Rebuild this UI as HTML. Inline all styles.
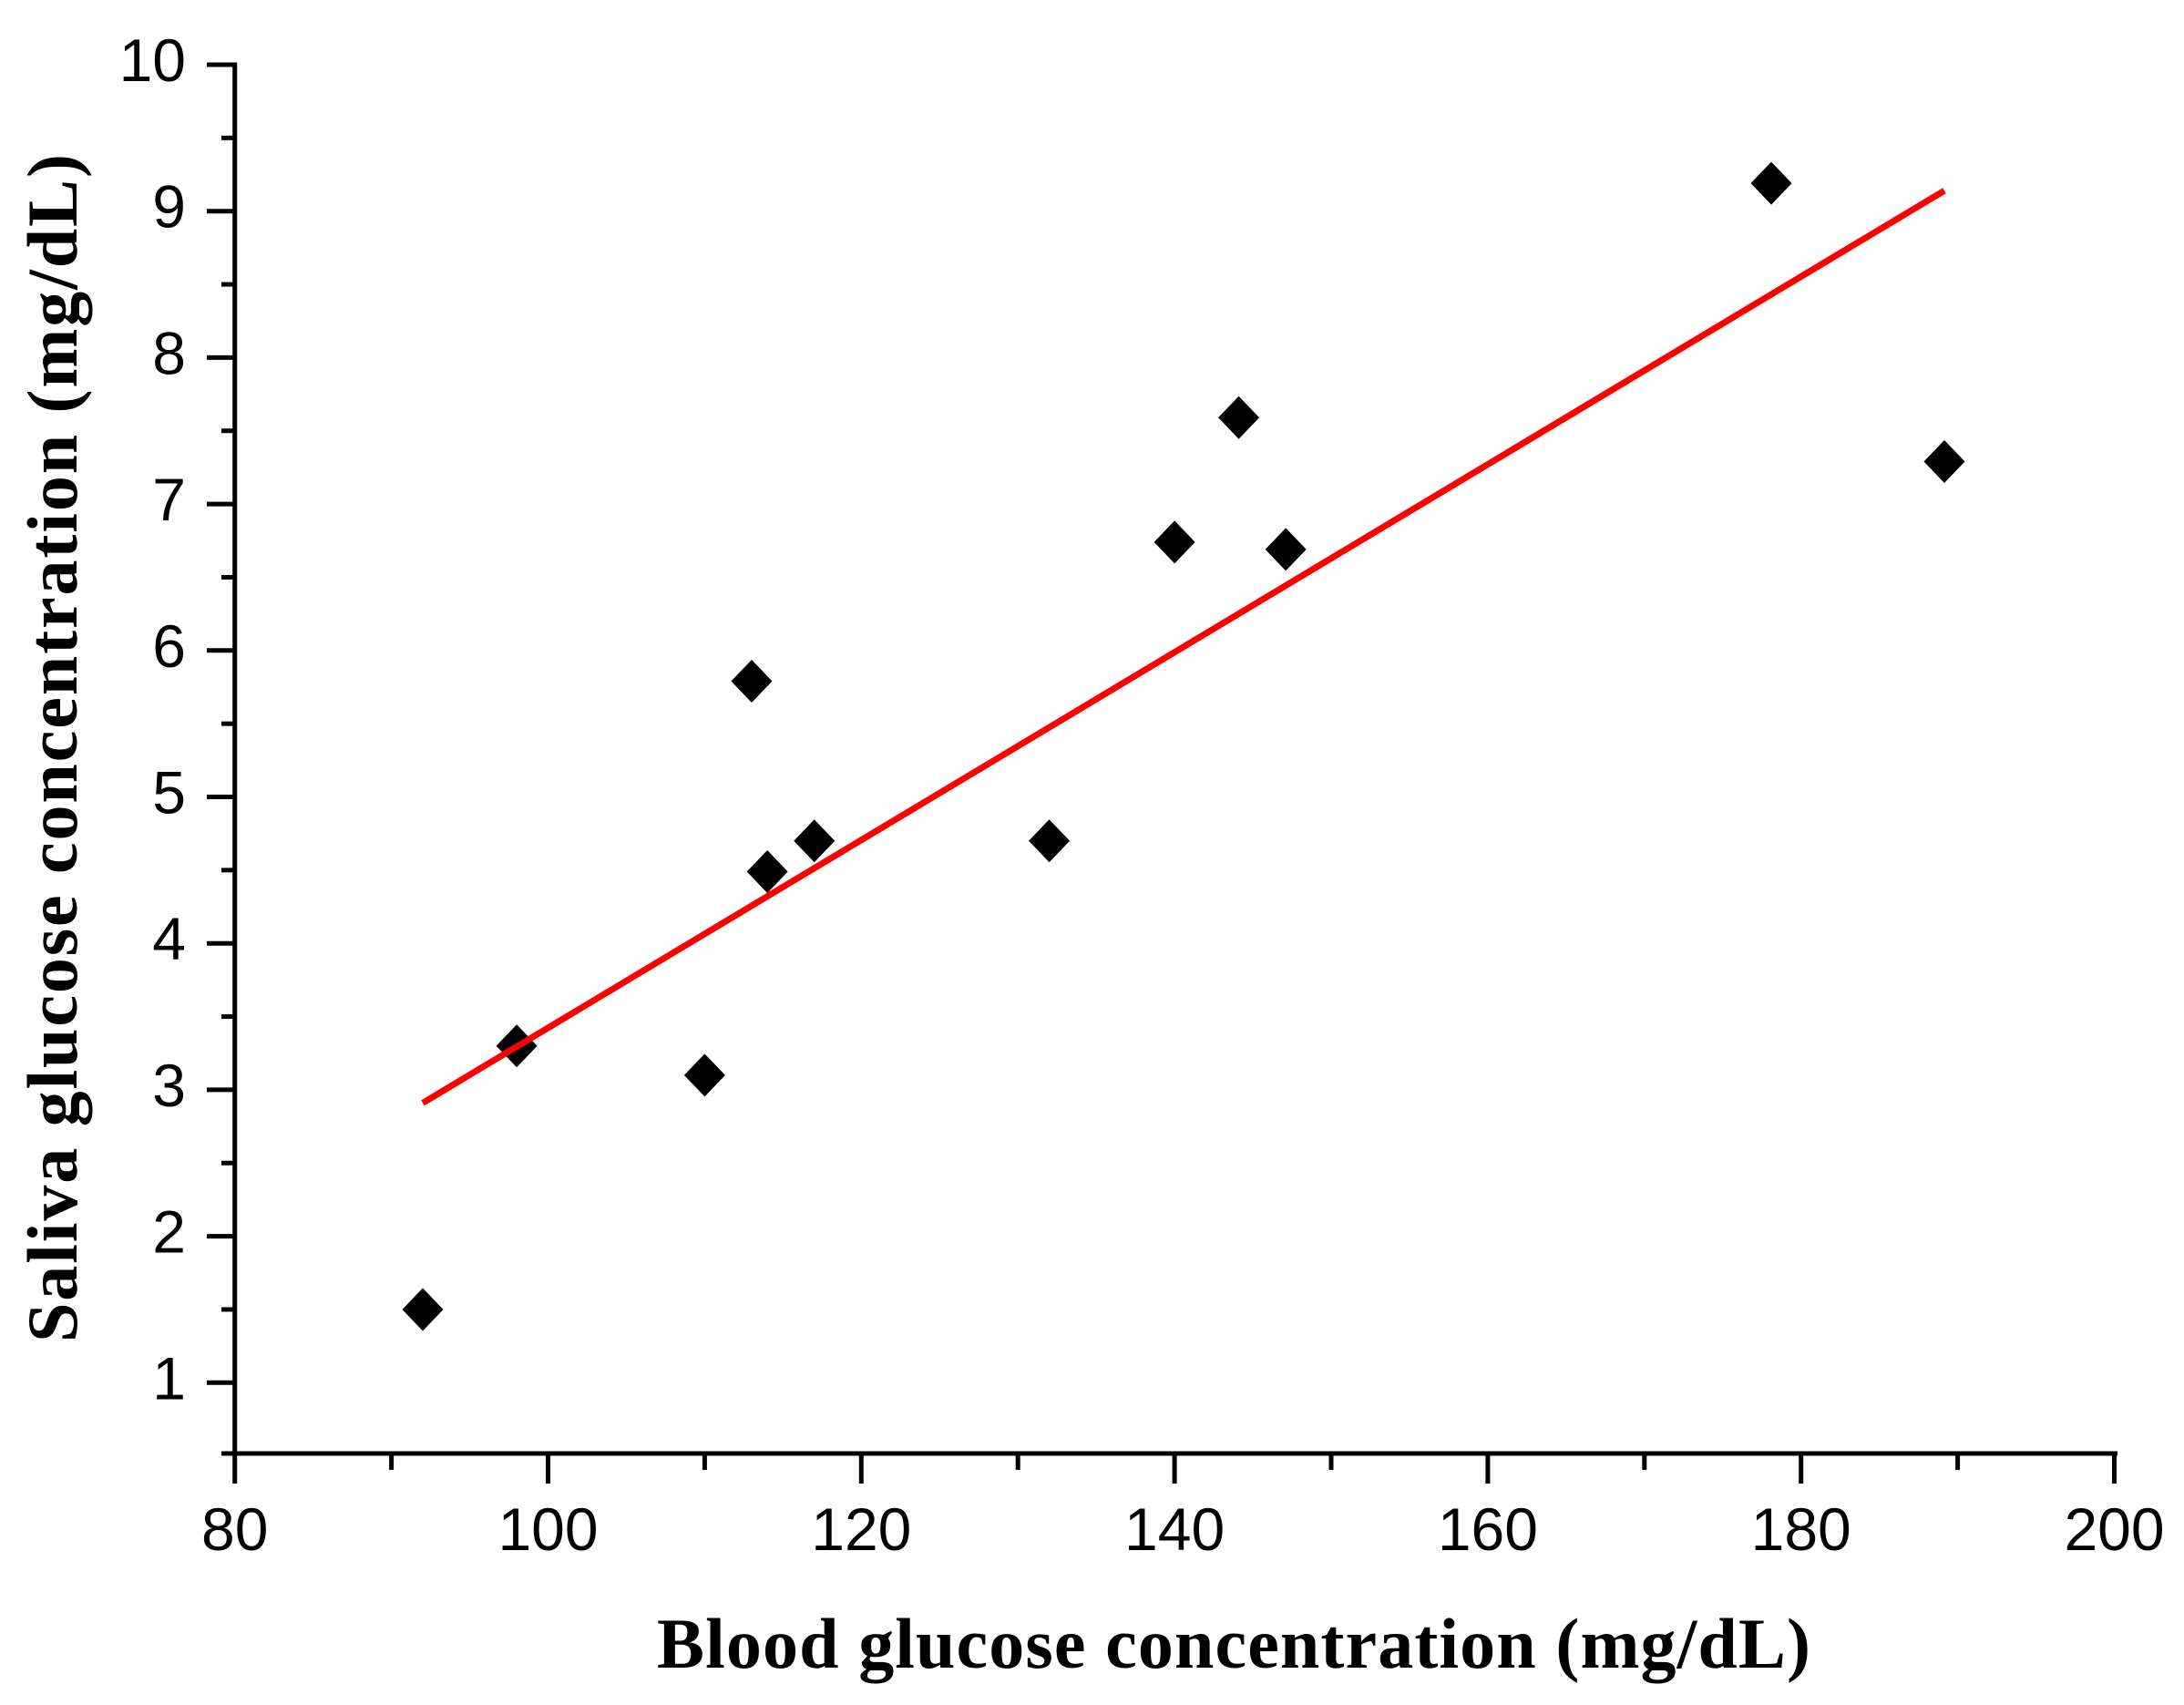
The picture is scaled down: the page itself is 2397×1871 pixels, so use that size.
<!DOCTYPE html>
<html lang="en">
<head>
<meta charset="utf-8">
<title>Saliva vs blood glucose concentration</title>
<style>
html,body{margin:0;padding:0;background:#fff;width:2397px;height:1871px;overflow:hidden}
svg{display:block}
.tick-label{font-family:"Liberation Sans",Arial,sans-serif;font-size:66px;fill:#000}
.axis-title{font-family:"Liberation Serif","Times New Roman",serif;font-weight:bold;font-size:78px;fill:#000}
</style>
</head>
<body>
<svg id="chart" xmlns="http://www.w3.org/2000/svg" width="2397" height="1871" viewBox="0 0 2397 1871">
  <rect x="0" y="0" width="2397" height="1871" fill="#fff"/>
  <g id="x-ticks"></g>
  <g id="y-ticks"></g>
  <line x1="257.7" y1="68.5" x2="257.7" y2="1597" stroke="#000" stroke-width="5"/>
  <line x1="243" y1="1595" x2="2324" y2="1595" stroke="#000" stroke-width="5"/>
  <g id="points"></g>
  <line id="fit" stroke="#ff0000" stroke-width="7"/>
  <text class="axis-title" x="721" y="1830" textLength="1266" lengthAdjust="spacing">Blood glucose concentration (mg/dL)</text>
  <text class="axis-title" transform="translate(84,1473) rotate(-90)" x="0" y="0" textLength="1304" lengthAdjust="spacing">Saliva glucose concentration (mg/dL)</text>
</svg>
<script>
const xMajorTicks = [80, 100, 120, 140, 160, 180, 200];
const xMinorTicks = [90, 110, 130, 150, 170, 190];
const yMajorTicks = [1, 2, 3, 4, 5, 6, 7, 8, 9, 10];
const yMinorTicks = [1.5, 2.5, 3.5, 4.5, 5.5, 6.5, 7.5, 8.5, 9.5];
const bloodGlucose = [92, 98, 110, 113, 114, 117, 132, 140, 144.1, 147.1, 178.1, 189.15];
const salivaGlucose = [1.5, 3.3, 3.1, 5.79, 4.49, 4.7, 4.7, 6.74, 7.59, 6.69, 9.19, 7.29];
const fitX = [92, 189.15];
const fitY = [2.91, 9.14];

const NS = 'http://www.w3.org/2000/svg';
const xScale = v => 257.7 + (v - 80) * 17.19;
const yScale = v => 71 + (10 - v) * 160.7;

function make(tag, parent) {
  const el = document.createElementNS(NS, tag);
  parent.appendChild(el);
  return el;
}
function tickLine(parent, x1, y1, x2, y2) {
  const el = make('line', parent);
  el.setAttribute('x1', x1);
  el.setAttribute('y1', y1);
  el.setAttribute('x2', x2);
  el.setAttribute('y2', y2);
  el.setAttribute('stroke', '#000');
  el.setAttribute('stroke-width', '5');
  return el;
}
const gx = document.getElementById('x-ticks');
const gy = document.getElementById('y-ticks');
const gp = document.getElementById('points');

xMajorTicks.forEach(v => {
  const t = tickLine(gx, xScale(v), 1595, xScale(v), 1628);
  
  
  const l = make('text', gx);
  l.setAttribute('class', 'tick-label');
  l.setAttribute('x', xScale(v));
  l.setAttribute('y', 1701);
  l.setAttribute('text-anchor', 'middle');
  l.textContent = v;
  
  
});
xMinorTicks.forEach(v => {
  const t = tickLine(gx, xScale(v), 1595, xScale(v), 1613);
  
  
});
yMajorTicks.forEach(v => {
  const t = tickLine(gy, 257.7, yScale(v), 227, yScale(v));
  
  
  const l = make('text', gy);
  l.setAttribute('class', 'tick-label');
  l.setAttribute('x', 204);
  l.setAttribute('y', yScale(v) + 18);
  l.setAttribute('text-anchor', 'end');
  l.textContent = v;
  
  
});
yMinorTicks.forEach(v => {
  const t = tickLine(gy, 257.7, yScale(v), 243, yScale(v));
  
  
});
bloodGlucose.forEach((b, i) => {
  const cx = xScale(b);
  const cy = yScale(salivaGlucose[i]);
  const d = make('polygon', gp);
  d.setAttribute('points', `${cx},${cy - 23.5} ${cx + 22.5},${cy} ${cx},${cy + 23.5} ${cx - 22.5},${cy}`);
  d.setAttribute('fill', '#000');
  
  
});
const fit = document.getElementById('fit');
fit.setAttribute('x1', xScale(fitX[0]));
fit.setAttribute('y1', yScale(fitY[0]));
fit.setAttribute('x2', xScale(fitX[1]));
fit.setAttribute('y2', yScale(fitY[1]));
</script>
</body>
</html>
